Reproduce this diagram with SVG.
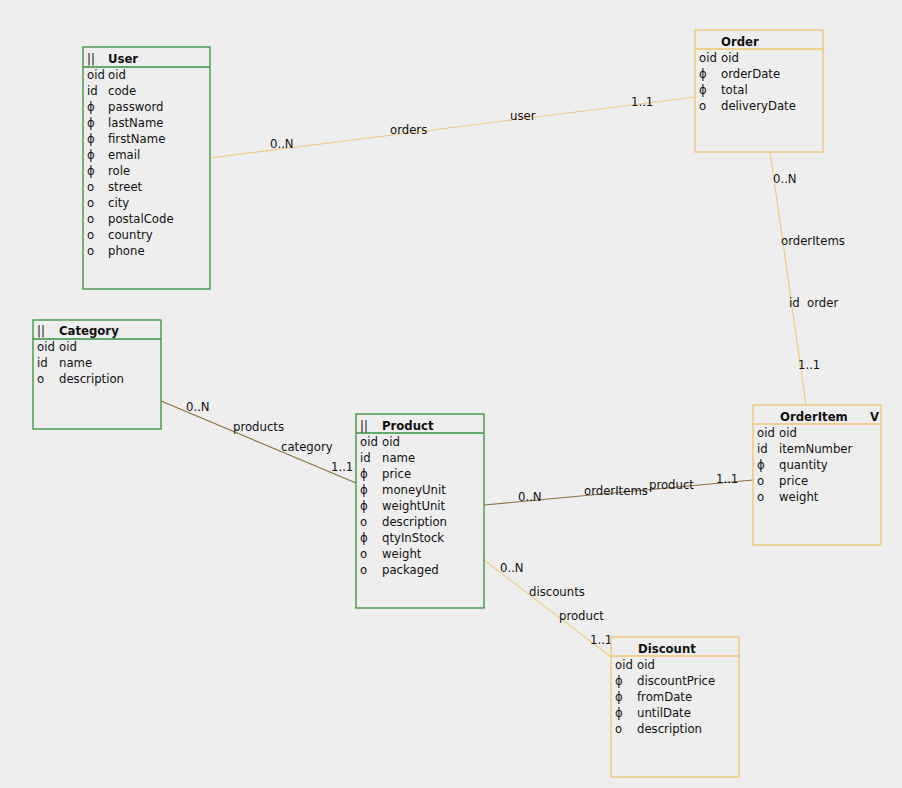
<svg xmlns="http://www.w3.org/2000/svg" width="902" height="788" viewBox="0 0 902 788">
  <style>
    text { font-family: "DejaVu Sans", "Liberation Sans", sans-serif; font-size: 11.7px; fill: #111; }
    .title { font-weight: bold; }
    .box { fill: #eeeeee; stroke-width: 1.3; }
    .green { stroke: #35923a; }
    .orange { stroke: #f3c470; }
    .link { fill: none; stroke-width: 1.2; }
    .light { stroke: #f2cd85; }
    .dark { stroke: #8c7240; }
  </style>
  <rect width="902" height="788" fill="#eeeeee"/>

  <g id="connectors">
    <line class="link light" x1="210" y1="158" x2="695" y2="97"/>
    <line class="link light" x1="770" y1="152" x2="806" y2="405"/>
    <line class="link dark" x1="161" y1="401" x2="356" y2="483"/>
    <line class="link dark" x1="484" y1="505" x2="753" y2="480"/>
    <line class="link light" x1="484" y1="560" x2="611" y2="657"/>
    <text x="270" y="148">0..N</text>
    <text x="390" y="134">orders</text>
    <text x="510" y="120">user</text>
    <text x="631" y="106">1..1</text>
    <text x="773" y="183">0..N</text>
    <text x="781" y="245">orderItems</text>
    <text x="789" y="307" xml:space="preserve">id  order</text>
    <text x="798" y="369">1..1</text>
    <text x="186" y="411">0..N</text>
    <text x="233" y="431">products</text>
    <text x="281" y="451">category</text>
    <text x="331" y="471">1..1</text>
    <text x="518" y="501">0..N</text>
    <text x="584" y="495">orderItems</text>
    <text x="649" y="489">product</text>
    <text x="716" y="483">1..1</text>
    <text x="500" y="572">0..N</text>
    <text x="529" y="596">discounts</text>
    <text x="559" y="620">product</text>
    <text x="590" y="644">1..1</text>
  </g>

  <g id="User">
    <rect class="box green" x="83" y="47" width="127" height="242"/>
    <line class="green" x1="83" y1="67" x2="210" y2="67" stroke-width="1.3"/>
    <text x="87" y="63">||</text>
    <text x="108" y="63" class="title">User</text>
    <text x="87" y="79">oid</text><text x="108" y="79">oid</text>
    <text x="87" y="95">id</text><text x="108" y="95">code</text>
    <text x="87" y="111">ϕ</text><text x="108" y="111">password</text>
    <text x="87" y="127">ϕ</text><text x="108" y="127">lastName</text>
    <text x="87" y="143">ϕ</text><text x="108" y="143">firstName</text>
    <text x="87" y="159">ϕ</text><text x="108" y="159">email</text>
    <text x="87" y="175">ϕ</text><text x="108" y="175">role</text>
    <text x="87" y="191">o</text><text x="108" y="191">street</text>
    <text x="87" y="207">o</text><text x="108" y="207">city</text>
    <text x="87" y="223">o</text><text x="108" y="223">postalCode</text>
    <text x="87" y="239">o</text><text x="108" y="239">country</text>
    <text x="87" y="255">o</text><text x="108" y="255">phone</text>
  </g>

  <g id="Order">
    <rect class="box orange" x="695" y="30" width="128" height="122"/>
    <line class="orange" x1="695" y1="49" x2="823" y2="49" stroke-width="1.3"/>
    <text x="721" y="46" class="title">Order</text>
    <text x="699" y="62">oid</text><text x="721" y="62">oid</text>
    <text x="699" y="78">ϕ</text><text x="721" y="78">orderDate</text>
    <text x="699" y="94">ϕ</text><text x="721" y="94">total</text>
    <text x="699" y="110">o</text><text x="721" y="110">deliveryDate</text>
  </g>

  <g id="Category">
    <rect class="box green" x="33" y="320" width="128" height="109"/>
    <line class="green" x1="33" y1="339" x2="161" y2="339" stroke-width="1.3"/>
    <text x="37" y="335">||</text>
    <text x="59" y="335" class="title">Category</text>
    <text x="37" y="351">oid</text><text x="59" y="351">oid</text>
    <text x="37" y="367">id</text><text x="59" y="367">name</text>
    <text x="37" y="383">o</text><text x="59" y="383">description</text>
  </g>

  <g id="Product">
    <rect class="box green" x="356" y="414" width="128" height="194"/>
    <line class="green" x1="356" y1="433" x2="484" y2="433" stroke-width="1.3"/>
    <text x="360" y="430">||</text>
    <text x="382" y="430" class="title">Product</text>
    <text x="360" y="446">oid</text><text x="382" y="446">oid</text>
    <text x="360" y="462">id</text><text x="382" y="462">name</text>
    <text x="360" y="478">ϕ</text><text x="382" y="478">price</text>
    <text x="360" y="494">ϕ</text><text x="382" y="494">moneyUnit</text>
    <text x="360" y="510">ϕ</text><text x="382" y="510">weightUnit</text>
    <text x="360" y="526">o</text><text x="382" y="526">description</text>
    <text x="360" y="542">ϕ</text><text x="382" y="542">qtyInStock</text>
    <text x="360" y="558">o</text><text x="382" y="558">weight</text>
    <text x="360" y="574">o</text><text x="382" y="574">packaged</text>
  </g>

  <g id="OrderItem">
    <rect class="box orange" x="753" y="405" width="128" height="140"/>
    <line class="orange" x1="753" y1="424" x2="881" y2="424" stroke-width="1.3"/>
    <text x="780" y="421" class="title">OrderItem</text>
    <text x="870" y="421" class="title">V</text>
    <text x="757" y="437">oid</text><text x="779" y="437">oid</text>
    <text x="757" y="453">id</text><text x="779" y="453">itemNumber</text>
    <text x="757" y="469">ϕ</text><text x="779" y="469">quantity</text>
    <text x="757" y="485">o</text><text x="779" y="485">price</text>
    <text x="757" y="501">o</text><text x="779" y="501">weight</text>
  </g>

  <g id="Discount">
    <rect class="box orange" x="611" y="637" width="128" height="140"/>
    <line class="orange" x1="611" y1="656" x2="739" y2="656" stroke-width="1.3"/>
    <text x="638" y="653" class="title">Discount</text>
    <text x="615" y="669">oid</text><text x="637" y="669">oid</text>
    <text x="615" y="685">ϕ</text><text x="637" y="685">discountPrice</text>
    <text x="615" y="701">ϕ</text><text x="637" y="701">fromDate</text>
    <text x="615" y="717">ϕ</text><text x="637" y="717">untilDate</text>
    <text x="615" y="733">o</text><text x="637" y="733">description</text>
  </g>
</svg>
